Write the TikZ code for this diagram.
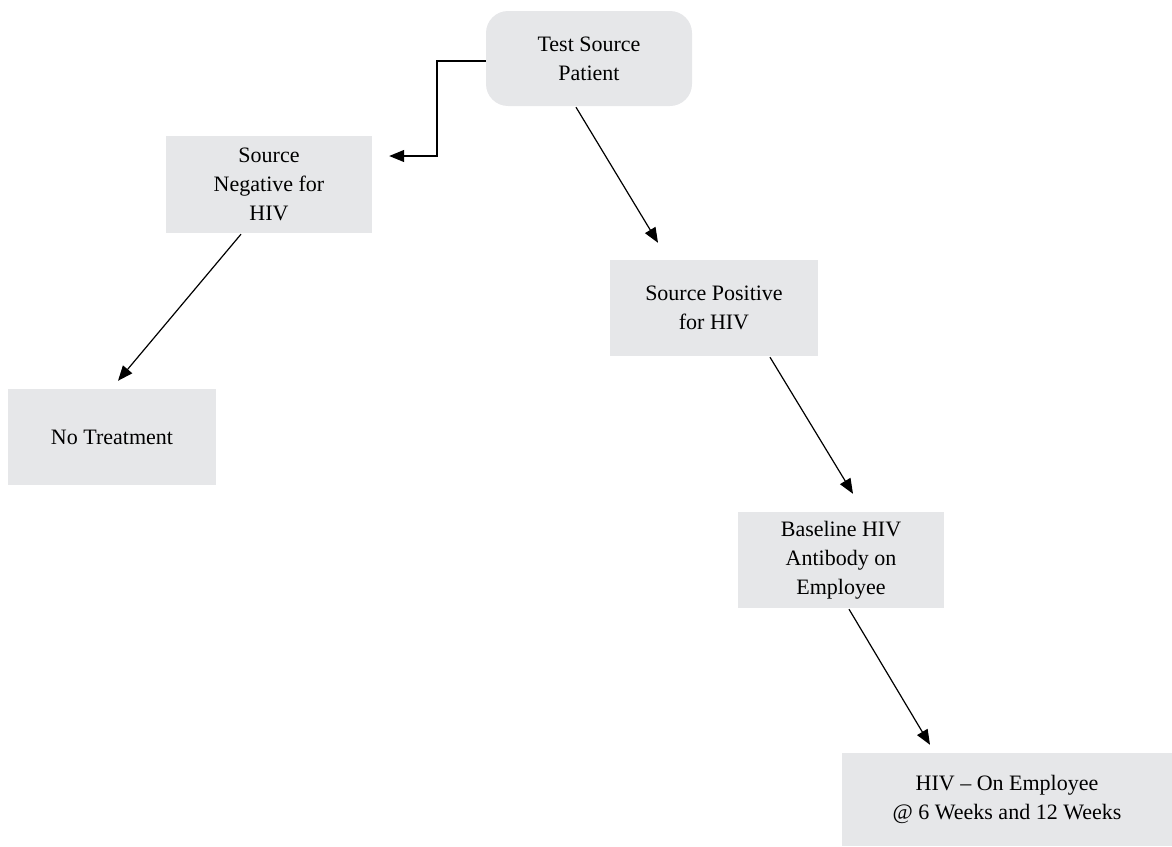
\documentclass[tikz,border=0pt]{standalone}
\usepackage{fontspec}
\setmainfont{Liberation Serif}
\usetikzlibrary{arrows.meta,calc}
\definecolor{boxgray}{HTML}{E6E7E9}
\begin{document}
\begin{tikzpicture}[x=1pt,y=-1pt,
  box/.style={fill=boxgray,draw=none,align=center,inner sep=0pt,
    font=\fontsize{22}{29}\selectfont},
  rbox/.style={box,rounded corners=22pt},
  conn/.style={line width=1.2pt,-{Triangle[length=15pt,width=12pt]}}]
\useasboundingbox (0,0) rectangle (1172,846);
\node[rbox,minimum width=206pt,minimum height=95pt] (top) at (589,58.5) {Test Source\\Patient};
\node[box,minimum width=206pt,minimum height=97pt] (neg) at (269,184.5) {Source\\Negative for\\HIV};
\node[box,minimum width=208pt,minimum height=96pt] (none) at (112,437) {No Treatment};
\node[box,minimum width=208pt,minimum height=96pt] (pos) at (714,308) {Source Positive\\for HIV};
\node[box,minimum width=206pt,minimum height=96pt] (base) at (841,560) {Baseline HIV\\Antibody on\\Employee};
\node[box,minimum width=330pt,minimum height=93pt] (emp) at (1007,799.5) {HIV -- On Employee\\@ 6 Weeks and 12 Weeks};
\coordinate (elbow) at (437,61);
\draw[conn] ($(top.west)+(0,2.5)$) -- (elbow) |- ($(neg.east)+(17,-28.5)$);
\draw[conn] ($(top.south)+(-13,1)$) -- ($(pos.north)+(-56,-17)$);
\draw[conn] ($(neg.south)+(-28,1)$) -- ($(none.north)+(6,-8)$);
\draw[conn] ($(pos.south)+(56,1)$) -- ($(base.north)+(12,-18)$);
\draw[conn] ($(base.south)+(8,1)$) -- ($(emp.north)+(-77,-8)$);
\end{tikzpicture}
\end{document}
